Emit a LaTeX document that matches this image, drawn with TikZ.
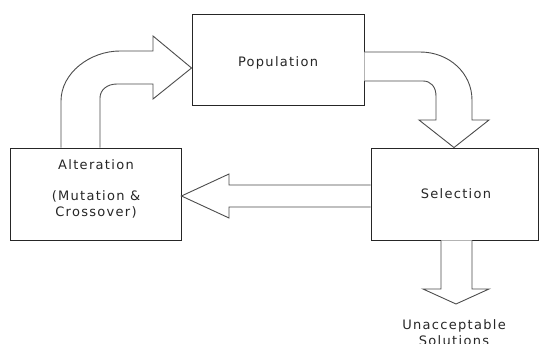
\documentclass[tikz,border=0pt]{standalone}
\usepackage{fontspec}
\setmainfont{DejaVu Sans}[LetterSpace=10]
\begin{document}
\begin{tikzpicture}[x=1pt,y=-1pt,
  box/.style={draw=black!85, line width=0.9pt, fill=white, inner sep=0pt},
  barrow/.style={draw=black!70, line width=0.9pt, fill=white, line join=miter},
  lbl/.style={font=\fontsize{13}{16}\selectfont, text=black!85, align=center, inner sep=0pt}]
\useasboundingbox (0,0) rectangle (539,344);
\clip (0,0) rectangle (539,344);
% boxes
\node[box, minimum width=172pt, minimum height=91pt] (pop) at (278,59.5) {};
\node[box, minimum width=171pt, minimum height=92pt] (alt) at (95.5,194) {};
\node[box, minimum width=167pt, minimum height=92pt] (sel) at (454.5,194) {};
% labels
\node[lbl] (popl) at (278,63) {Population};
\node[lbl] (sell) at (456,194) {Selection};
\node[lbl, anchor=north] (altl) at (96,159) {Alteration\\[15pt](Mutation \&\\Crossover)};
\node[lbl] (rej) at (454,333) {Unacceptable\\Solutions};
% block arrows
\draw[barrow] (61,0 |- alt.north) -- (61,101) .. controls (61,73) and (90,51) .. (120,51)
  -- (153,51) -- (153,36) -- (pop.west |- 0,68) -- (153,99) -- (153,84) -- (117,84)
  .. controls (107,84) and (100,90) .. (100,98) -- (100,0 |- alt.north);
\draw[barrow] (pop.east |- 0,52) -- (420,52) .. controls (449,52) and (472,73) .. (472,100)
  -- (472,120) -- (489,120) -- (454,0 |- sel.north) -- (419,120) -- (436,120) -- (436,96)
  .. controls (436,87) and (431,81) .. (423,81) -- (pop.east |- 0,81);
\draw[barrow] (sel.west |- 0,185) -- (229,185) -- (229,174) -- (alt.east |- 0,196)
  -- (229,218) -- (229,207) -- (sel.west |- 0,207);
\draw[barrow] (441,0 |- sel.south) -- (441,289) -- (423,289) -- (456,304) -- (489,289)
  -- (472,289) -- (472,0 |- sel.south);
\end{tikzpicture}
\end{document}
